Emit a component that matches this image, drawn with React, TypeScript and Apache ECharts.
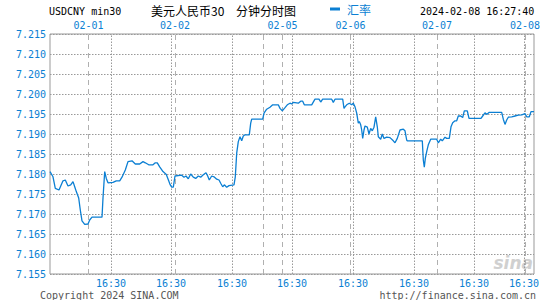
import React, { useEffect, useRef } from "react";
import * as echarts from "echarts";

// time index (arbitrary uniform slots across the 6 sessions) and rate values
const times = [
  0, 3, 5.3, 9, 13, 15.3, 18, 20.7, 23, 24.7, 26.3, 28.7, 30.3, 32, 34.7, 38, 39.7, 42, 52, 53,
  54.7, 56.3, 58, 63, 66.3, 69.7, 72, 75.3, 78, 82, 85.3, 89.7, 93, 95.3, 98.7, 103, 105.3, 107.3,
  109.7, 113, 116.3, 118.7, 120, 121.7, 123.3, 125, 131.7, 134, 136, 138.3, 140.7, 143.3, 145.7,
  148.3, 150.7, 153.3, 156, 157.7, 159.3, 161.7, 164, 166.7, 169, 170.7, 172.7, 174.3, 176.7, 179,
  184, 185.3, 186.7, 188.3, 190, 191.7, 193.3, 195, 199.3, 200.7, 201.7, 212.7, 214, 216.7, 220,
  222.7, 228.3, 230, 232.3, 235, 237.3, 240, 241.7, 243.3, 248.3, 250.7, 252.7, 254.3, 261.7, 265,
  269, 270.7, 272.7, 281.7, 283.3, 285, 292.7, 294, 295, 296.7, 299.3, 301.7, 303.3, 305, 306.7,
  308.3, 309.3, 310.7, 311.7, 312.7, 314, 315, 317.3, 319, 320.7, 322.3, 324, 325.7, 327.3, 328.3,
  330.7, 332.3, 334, 336.7, 340, 343.3, 345, 347.3, 350, 353.3, 355, 356.7, 357.3, 372.3, 373.3,
  374.3, 375.3, 376.7, 378.3, 380.7, 386.7, 388.3, 390.7, 392.3, 395, 396.7, 399.3, 401, 402.7, 405,
  406.7, 408.3, 410.7, 412.7, 414.3, 417.3, 419, 431, 432.7, 435, 436.7, 439, 451.7, 453.3, 455,
  456.7, 458.3, 461.7, 465, 468.3, 471.7, 475, 476.7, 479.3, 481, 484,
];
const rates = [
  7.1806, 7.1793, 7.1764, 7.176, 7.1783, 7.1785, 7.177, 7.1773, 7.1781, 7.1768, 7.1756, 7.174,
  7.171, 7.1683, 7.1674, 7.1675, 7.1685, 7.1692, 7.1692, 7.174, 7.1806, 7.1789, 7.1778, 7.1779,
  7.1783, 7.1783, 7.1792, 7.181, 7.1831, 7.1833, 7.1825, 7.1825, 7.1831, 7.1828, 7.1823, 7.1823,
  7.1828, 7.1828, 7.1818, 7.1806, 7.1799, 7.1783, 7.1774, 7.1767, 7.1767, 7.1795, 7.1797, 7.1792,
  7.1795, 7.1788, 7.18, 7.1792, 7.1789, 7.1795, 7.1792, 7.1798, 7.1803, 7.1795, 7.1785, 7.1795,
  7.1793, 7.1787, 7.1785, 7.1777, 7.1768, 7.1773, 7.1767, 7.1771, 7.1773, 7.1793, 7.1852, 7.1881,
  7.1893, 7.1883, 7.1895, 7.1898, 7.1898, 7.1927, 7.1937, 7.1937, 7.1952, 7.1962, 7.1967, 7.1973,
  7.1973, 7.1964, 7.1958, 7.1966, 7.1973, 7.1977, 7.1975, 7.1979, 7.1977, 7.1982, 7.1982, 7.1973,
  7.1973, 7.1987, 7.1987, 7.198, 7.1987, 7.1987, 7.1979, 7.1987, 7.1987, 7.1964, 7.1968, 7.1973,
  7.1977, 7.1973, 7.1977, 7.1968, 7.1952, 7.1927, 7.1931, 7.1923, 7.191, 7.1889, 7.191, 7.192,
  7.1917, 7.19, 7.1914, 7.1908, 7.1917, 7.1943, 7.1918, 7.1893, 7.1887, 7.19, 7.1889, 7.1892,
  7.1891, 7.1883, 7.1878, 7.1889, 7.191, 7.1912, 7.1908, 7.1885, 7.1883, 7.1883, 7.1835, 7.1817,
  7.1839, 7.1856, 7.1873, 7.1887, 7.1887, 7.1878, 7.1887, 7.1883, 7.1892, 7.1889, 7.1889, 7.1918,
  7.1928, 7.1933, 7.1933, 7.1945, 7.1945, 7.1941, 7.1958, 7.1958, 7.1939, 7.1939, 7.1945, 7.1953,
  7.1949, 7.1954, 7.1954, 7.1937, 7.1924, 7.1935, 7.1942, 7.1943, 7.1945, 7.1947, 7.1948, 7.1951,
  7.1943, 7.1943, 7.1956, 7.1956,
];

// day separators (dashed) and their labels at the top
const dayPositions = [38.5, 125, 213, 232.5, 300.5, 387, 475];
const dayLabels = ["02-01", "02-02", "", "02-05", "02-06", "02-07", "02-08"];
// time marks (dotted) and their labels at the bottom
const timePositions = [0, 61, 121, 182, 242, 303, 364, 424, 474];
const timeLabels = ["16:00", "16:30", "16:30", "16:30", "16:30", "16:30", "16:30", "16:30", "16:30"];

const yMin = 7.155;
const yMax = 7.215;
const yStep = 0.005;

const BLUE = "#0b7fd3";
const MONO = "'DejaVu Sans Mono', 'Liberation Mono', monospace";
const CJK = "'Noto Sans CJK SC', sans-serif";

export default function App() {
  const ref = useRef<HTMLDivElement>(null);
  useEffect(() => {
    document.body.style.margin = "0";
    const chart = echarts.init(ref.current!, null, { renderer: "svg" });
    const markData: any[] = [];
    timePositions.forEach((p, i) => {
      markData.push({
        xAxis: p,
        lineStyle:
          i === 0
            ? { type: "solid", color: "#999", width: 1, opacity: 0 }
            : { type: [1.5, 1.5], color: "#999", width: 1 },
        label: {
          show: true,
          position: "start",
          formatter: timeLabels[i],
          color: BLUE,
          fontFamily: MONO,
          fontSize: 10,
          distance: 4,
        },
      });
    });
    dayPositions.forEach((p, i) => {
      markData.push({
        xAxis: p,
        lineStyle: { type: [5, 4], color: "#b0b0b0", width: 1 },
        label: {
          show: dayLabels[i] !== "",
          position: "end",
          formatter: dayLabels[i],
          color: BLUE,
          fontFamily: MONO,
          fontSize: 10,
          distance: 4,
        },
      });
    });
    chart.setOption({
      animation: false,
      grid: {
        left: 50,
        right: 11,
        top: 34,
        bottom: 26,
        show: true,
        borderColor: "#999",
        borderWidth: 1,
      },
      legend: {
        data: [{ name: "汇率", icon: "rect" }],
        left: 330,
        top: 3,
        padding: 0,
        itemWidth: 10,
        itemHeight: 3,
        itemGap: 6,
        textStyle: { color: BLUE, fontSize: 12, fontFamily: CJK, padding: [0, 0, 0, 2] },
      },
      xAxis: {
        type: "value",
        min: 0,
        max: 484,
        axisLine: { show: false },
        axisTick: { show: false },
        axisLabel: { show: false },
        splitLine: { show: false },
      },
      yAxis: {
        type: "value",
        min: yMin,
        max: yMax,
        interval: yStep,
        axisLine: { show: false },
        axisTick: { show: false },
        axisLabel: {
          color: BLUE,
          fontFamily: MONO,
          fontSize: 10,
          margin: 4,
          formatter: (v: number) => v.toFixed(3),
        },
        splitLine: { show: true, lineStyle: { type: [1.5, 1.5], color: "#999", width: 1 } },
      },
      graphic: [
        { type: "text", left: 49, top: 6, style: { text: "USDCNY min30", font: `10px ${MONO}`, fill: "#000" } },
        { type: "text", left: 151, top: 4, style: { text: "美元人民币30", font: `12px ${CJK}`, fill: "#000" } },
        { type: "text", left: 236, top: 4, style: { text: "分钟分时图", font: `12px ${CJK}`, fill: "#000" } },
        { type: "text", left: 420, top: 6, style: { text: "2024-02-08 16:27:40", font: `10px ${MONO}`, fill: "#000" } },
        { type: "text", left: 40, top: 290, style: { text: "Copyright 2024 SINA.COM", font: `10px ${MONO}`, fill: "#555" } },
        { type: "text", right: 9, top: 290, style: { text: "http://finance.sina.com.cn", font: `10px ${MONO}`, fill: "#555" } },
        { type: "text", right: 12, top: 254, style: { text: "sina", font: `italic bold 17px 'DejaVu Sans', sans-serif`, fill: "#d0d0d0" } },
      ],
      series: [
        {
          name: "汇率",
          type: "line",
          data: times.map((t, i) => [t, rates[i]]),
          showSymbol: false,
          lineStyle: { color: BLUE, width: 1.3 },
          itemStyle: { color: BLUE },
          z: 5,
          markLine: {
            silent: true,
            symbol: ["none", "none"],
            animation: false,
            data: markData,
          },
        },
      ],
    });
    return () => chart.dispose();
  }, []);
  return <div ref={ref} style={{ width: 545, height: 300 }} />;
}
